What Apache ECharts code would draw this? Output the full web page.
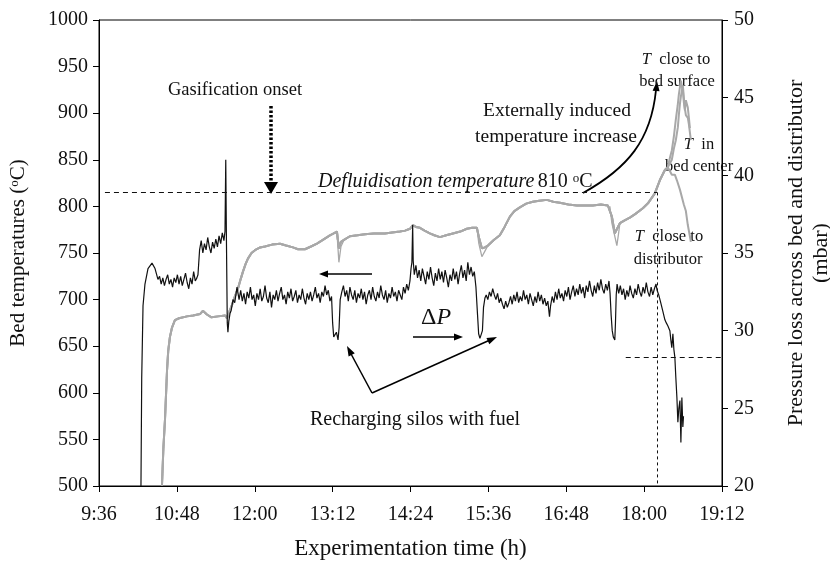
<!DOCTYPE html>
<html><head><meta charset="utf-8">
<script src="https://cdn.jsdelivr.net/npm/echarts@6/dist/echarts.min.js"></script>
<style>html,body{margin:0;padding:0;background:#fff}#c{width:830px;height:562px}</style>
</head><body><div id="c"></div>
<script>
// time in minutes since midnight
const xTickLabels = ['9:36','10:48','12:00','13:12','14:24','15:36','16:48','18:00','19:12'];
const tempTicks = [500,550,600,650,700,750,800,850,900,950,1000];
const pressTicks = [20,25,30,35,40,45,50];

// Pressure loss across bed and distributor (mbar) [time, mbar]
const pressure = [
[614.8,20],[615.5,27],[616.7,31.6],[618.5,33.0],[621.3,34.0],[625,34.35],[627.8,34.0],[630.5,33.3],
[632,33.5],[633.5,33.0],[635,33.4],[636.5,32.9],[638,33.3],[639.5,33.6],[641,33.0],[642.5,33.3],[644,32.8],[645.5,33.4],[647,33.1],[648.5,33.6],[650,33.0],[651.5,33.5],[653,32.9],[654.5,33.3],[656,33.7],[657.5,33.1],[659,32.7],[660.5,33.4],[662,33.0],[663.5,33.8],[665,33.2],[666.5,33.4],[667.5,33.6],
[669,35.2],[670.5,35.8],[672,35.0],[673.5,35.6],[675,35.2],[676.5,36.0],[678,35.4],[679.5,35.0],[681,35.7],[682.5,35.3],[684,35.9],[685.5,35.4],[687,36.1],[688.5,35.6],[690,36.3],[691.5,35.8],[692.5,36.4],
[693.2,41.0],[693.8,36],[694.6,30.5],[695.2,29.9],[696,30.6],[697.1,31.1],[698.2,31.3],[699.9,32.0],[701.5,31.8],[703.6,32.8],
[705.5,32.0],[707,32.6],[708.5,31.9],[710,32.4],[711.5,31.7],[713,32.5],[714.5,32.1],[716,32.8],[717.5,32.0],[719,32.3],[720.5,31.6],[722,32.4],[723.5,32.0],[725,32.7],[726.5,31.9],[728,32.2],[729.5,32.9],[731,32.1],[732.5,31.8],[734,32.5],[735.5,31.5],[737,32.3],[738.5,32.0],[740,32.6],[741.5,31.9],[743,32.4],[744.5,32.8],[746,32.0],[747.5,32.3],[749,31.7],[750.5,32.5],[752,32.1],[753.5,32.7],[755,31.9],[756.5,32.2],[758,32.6],[759.5,31.8],[761,32.3],[762.5,32.0],[764,32.7],[765.5,32.1],[767,31.7],[768.5,32.4],[770,32.0],[771.5,32.5],[773,31.9],[774.5,32.3],[776,32.8],[777.5,32.1],[779,32.4],[780.5,31.8],[782,32.5],[783.5,32.2],[785,32.9],[786.5,32.3],[788,32.6],[789.5,31.9],[791,32.2],
[792,30.5],[793,29.6],[794,29.5],[795.5,29.9],[797,29.4],[798,30.2],[799,32.0],[800.5,32.5],
[802,32.9],[803.5,32.2],[805,32.6],[806.5,31.9],[808,32.8],[809.5,32.3],[811,32.0],[812.5,32.6],[814,31.8],[815.5,32.4],[817,32.1],[818.5,32.7],[820,32.0],[821.5,32.5],[823,31.7],[824.5,32.3],[826,32.6],[827.5,32.0],[829,32.8],[830.5,32.2],[832,31.9],[833.5,32.5],[835,32.1],[836.5,32.9],[838,32.3],[839.5,32.0],[841,32.6],[842.5,31.8],[844,32.4],[845.5,32.1],[847,32.8],[848.5,32.2],[850,32.5],[851.5,31.9],[853,32.6],[854.5,32.3],[856,32.0],[857.5,32.8],[859,32.4],[860.5,33.0],[862,32.6],[863.5,33.2],
[864.5,34.0],[865.3,34.4],[866,36.8],[866.5,34.5],[867.5,33.6],
[869,34.2],[870.5,33.4],[872,33.9],[873.5,33.2],[875,34.0],[876.5,33.5],[878,33.0],[879.5,33.8],[881,33.3],[882.5,34.1],[884,33.4],[885.5,32.9],[887,33.7],[888.5,33.2],[890,34.0],[891.5,33.3],[893,33.8],[894.5,33.1],[896,33.9],[897.5,33.4],[899,32.8],[900.5,33.6],[902,33.2],[903.5,34.0],[905,33.3],[906.5,33.8],[908,33.0],[909.5,33.7],[911,34.2],[912.5,33.4],[914,33.9],[915.5,33.2],[917,34.4],[918.5,33.6],[920,34.1],[921.5,33.5],[923,33.8],
[924.5,32.8],[926,31.0],[927,29.8],[928.2,29.5],[929.5,29.4],[930.5,30.0],[931.5,31.5],[932.8,32.1],
[934,32.3],[935.5,32.0],[937,32.5],[938.5,32.2],[940,32.7],[941.5,32.3],[943,32.0],[944.5,32.4],[946,31.8],[947.5,32.1],[949,31.7],[950.5,31.4],[952,31.9],[953.5,31.5],[955,31.8],[956.5,32.2],[958,31.7],[959.5,32.3],[961,31.9],[962.5,32.5],[964,31.8],[965.5,32.2],[967,31.9],[968.5,32.6],[970,32.0],[971.5,32.3],[973,31.7],[974.5,32.4],[976,32.0],[977.5,31.6],[979,32.2],[980.5,31.8],[982,32.5],[983.5,31.9],[985,32.3],[986.5,31.7],[988,32.1],[989.5,31.6],[991,31.9],[992.5,30.9],[993.5,31.6],[995,32.2],[996.5,31.8],[998,32.5],[999.5,32.0],[1001,32.7],[1002.5,32.1],[1004,32.4],[1005.5,31.9],[1007,32.6],[1008.5,32.2],[1010,32.8],[1011.5,32.0],[1013,32.5],[1014.5,32.9],[1016,32.2],[1017.5,32.7],[1019,32.3],[1020.5,33.0],[1022,32.4],[1023.5,32.8],[1025,32.1],[1026.5,32.9],[1028,32.5],[1029.5,33.2],[1031,32.6],[1032.5,32.2],[1034,32.9],[1035.5,32.4],[1037,33.1],[1038.5,32.6],[1040,33.3],[1041.5,32.7],[1043,32.4],[1044.5,33.0],[1046,32.6],[1047.5,33.2],
[1048.5,32.4],[1049.5,31.0],[1050.5,30.0],[1051.5,29.6],[1052.9,29.4],[1053.5,30.5],[1054.2,32.3],[1055,33.0],
[1056.5,32.4],[1058,32.9],[1059.5,32.3],[1061,32.7],[1062.5,32.0],[1064,32.6],[1065.5,32.2],[1067,32.9],[1068.5,32.4],[1070,32.1],[1071.5,32.7],[1073,32.3],[1074.5,33.0],[1076,32.5],[1077.5,32.2],[1079,32.8],[1080.5,32.4],[1082,33.1],[1083.5,32.5],[1085,32.2],[1086.5,32.8],[1088,32.3],[1089.5,32.7],[1091,33.0],[1092,32.6],
[1093.5,32.3],[1095,31.9],[1096.4,31.8],[1097.5,31.2],[1099.2,30.7],[1100.5,30.5],[1102,30.3],[1103.8,30.0],[1104.7,29.4],[1105.6,28.9],[1106.6,29.8],[1107.5,28.8],[1108.4,28.3],[1109.3,27.0],[1110.3,25.7],[1111.2,24.1],[1112.1,25.0],[1113.1,25.5],[1114,22.8],[1114.9,25.7],[1115.8,23.8],[1116.4,24.5]
];

// Bed temperatures (°C), part common to the three thermocouples [time, °C]
const tempCommon = [
[634.2,500],[635.5,540],[637,571],[638.9,624],[640,645],[641.6,660],[643.5,670],[646.2,678],[650,680],[657.3,682],[663,683],[669.4,684.5],[672,688],[675.8,684],[680,681],[686,682],[692.5,683],[694.3,680],
[696.5,687],[698.9,694],[701.5,703],[704.5,712],[707,722],[709.1,730],[711.5,738],[713.7,744],[717,750],[720.2,753],[725,756],[729.4,757],[736,759],[743.3,760],[749,758],[755.3,756],[760,754],[766.4,754],[772,757],[777.5,760],[783,764],[789.5,769],[793,771],[796,773],[797.8,755],[799.7,762],[802.5,764],[808,768],[815,769],[821.9,770],[830,771],[840.3,771],[847,772],[854.2,773],[859,774],[863.5,776],[866.2,780],[869,778],[872.7,777],[877,774],[881.9,771],[886,769],[891.2,767],[897,769],[903.2,771],[910,773],[916.1,776],[921,777],[925.4,777],[927.2,767],[930,755],[932.8,756],[935.6,758],[941,764],[946.6,769],[951,778],[955.9,789],[960,795],[965.1,799],[971,803],[977.1,805],[983,806],[990.1,807],[996,805],[1002.1,804],[1010,802],[1017.8,801],[1025,801],[1032.6,801],[1040,802],[1046.5,801],[1048.3,800],[1050.2,789],[1052.9,771],[1055,776],[1057.6,782],[1062,785],[1066.8,788],[1072,792],[1078.8,798],[1084,804],[1089.9,814],[1094.5,828],[1099.2,839],[1101.9,842]
];
// deeper dips of one thermocouple during silo recharging
const tempDip1 = [[793,771],[796,772],[797.8,740],[799.7,757],[802.5,764]];
const tempDip2 = [[925.4,777],[927.2,760],[930,746],[932.8,752],[935.6,758]];
const tempDip3 = [[1048.3,800],[1050.2,782],[1054.8,758],[1056.5,772],[1057.6,782]];
// end of run: the three thermocouples separate
const tailSurface = [[1101.9,842],[1103.8,852],[1105.6,860],[1107.5,875],[1109.3,893],[1111,908],[1112.1,920],[1113.1,928],[1114,935],[1115,928],[1115.8,925],[1116.7,912],[1117.7,903],[1118.6,914],[1119.5,910],[1120.4,906],[1121.4,895],[1122.3,884]];
const tailCenter = [[1101.9,842],[1103.8,846],[1105.6,850],[1107.5,862],[1109.3,871],[1111.2,885],[1112.1,898],[1113.1,910],[1114,918],[1115.8,930],[1116.7,917],[1117.7,905],[1118.6,898],[1120.4,895],[1121.4,888],[1123.2,871]];
const tailDistributor = [[1101.9,842],[1103.8,838],[1105.6,834],[1106.6,836],[1108.4,834],[1110.3,828],[1113.1,818],[1116.7,802],[1118.6,795],[1120.4,780],[1122.3,768],[1123.2,762]];

const defluidTemp = 815;      // drawn level of the 810 °C line
const defluidTime = 1092;     // time when defluidisation reached
const pressAtDefluid = 28.3;

const FONT = 'Liberation Serif';
const chart = echarts.init(document.getElementById('c'));
const gray = '#a8a8a8';

function arrowHead(tip, from, len, half) {
  const dx = tip[0]-from[0], dy = tip[1]-from[1];
  const L = Math.hypot(dx, dy); const ux = dx/L, uy = dy/L;
  const bx = tip[0]-ux*len, by = tip[1]-uy*len;
  return {type:'polygon', shape:{points:[tip,[bx-uy*half, by+ux*half],[bx+uy*half, by-ux*half]]}, style:{fill:'#000'}};
}
function line(a, b, extra) {
  return Object.assign({type:'line', shape:{x1:a[0],y1:a[1],x2:b[0],y2:b[1]}, style:{stroke:'#000', lineWidth:1.5}}, extra||{});
}
function txt(x, y, text, size, extra) {
  return {type:'text', x:x, y:y, style:Object.assign({text:text, fontFamily:FONT, fontSize:size, fill:'#111', textAlign:'center', textVerticalAlign:'middle',
    rich:{i:{fontStyle:'italic', fontFamily:FONT, fontSize:size}, n:{fontFamily:FONT, fontSize:size}}}, extra||{})};
}

const tempSeries = (name, tail) => ({
  name, type:'line', yAxisIndex:0, showSymbol:false, silent:true,
  data: tempCommon.concat(tail.slice(1)),
  lineStyle:{color:gray, width:2}, z:2
});

chart.setOption({
  animation:false,
  backgroundColor:'#fff',
  grid:{left:99, right:108, top:20, bottom:76, show:true, borderColor:'#000', borderWidth:1, containLabel:false, outerBoundsMode:'none'},
  xAxis:{type:'value', min:576, max:1152, interval:72,
    axisLine:{lineStyle:{color:'#000', width:1}}, axisTick:{length:6, lineStyle:{color:'#000'}},
    splitLine:{show:false},
    axisLabel:{color:'#111', fontFamily:FONT, fontSize:20, margin:19, formatter:(v,i)=>xTickLabels[i]},
    name:'Experimentation time (h)', nameLocation:'middle', nameGap:51,
    nameTextStyle:{color:'#111', fontFamily:FONT, fontSize:23}},
  yAxis:[
    {type:'value', min:500, max:1000, interval:50, position:'left',
      axisLine:{show:true, lineStyle:{color:'#000'}}, axisTick:{show:true, length:6, lineStyle:{color:'#000'}},
      splitLine:{show:false},
      axisLabel:{color:'#111', fontFamily:FONT, fontSize:20, margin:11, formatter:v=>String(tempTicks[tempTicks.indexOf(v)])},
      name:'Bed temperatures ({s|o}C)', nameLocation:'middle', nameGap:70, nameRotate:90,
      nameTextStyle:{color:'#111', fontFamily:FONT, fontSize:21, rich:{s:{fontFamily:FONT, fontSize:13, verticalAlign:'top', color:'#111'}}}},
    {type:'value', min:20, max:50, interval:5, position:'right',
      axisLine:{show:true, lineStyle:{color:'#000'}}, axisTick:{show:true, length:6, lineStyle:{color:'#000'}},
      splitLine:{show:false},
      axisLabel:{color:'#111', fontFamily:FONT, fontSize:20, margin:12, formatter:v=>String(pressTicks[pressTicks.indexOf(v)])},
      name:'Pressure loss across bed and distributor\n(mbar)', nameLocation:'middle', nameGap:62, nameRotate:90,
      nameTextStyle:{color:'#111', fontFamily:FONT, fontSize:22, lineHeight:25, align:'center'}}
  ],
  series:[
    tempSeries('T close to bed surface', tailSurface),
    tempSeries('T in bed center', tailCenter),
    Object.assign(tempSeries('T close to distributor', tailDistributor), {
      markLine:{symbol:'none', silent:true, label:{show:false}, lineStyle:{color:'#111', type:[5,4], width:1},
        data:[[{coord:[581.5, defluidTemp]},{coord:[defluidTime, defluidTemp]}],
              [{coord:[defluidTime, defluidTemp], lineStyle:{type:[3,3]}},{coord:[defluidTime, 500]}]]}
    }),
    ...[tempDip1,tempDip2,tempDip3].map((d,k)=>({name:'dip'+k, type:'line', yAxisIndex:0, showSymbol:false, silent:true, data:d, lineStyle:{color:gray, width:1.3}, z:2})),
    {name:'ΔP', type:'line', yAxisIndex:1, showSymbol:false, silent:true, data:pressure,
      lineStyle:{color:'#111', width:1.2}, z:3,
      markLine:{symbol:'none', silent:true, label:{show:false}, lineStyle:{color:'#111', type:[5,4], width:1},
        data:[[{coord:[1063, pressAtDefluid]},{coord:[1152, pressAtDefluid]}]]}}
  ],
  graphic:[
    txt(235, 90, 'Gasification onset', 18.5),
    line([271,106],[271,186], {style:{stroke:'#000', lineWidth:3.5, lineDash:[2.5,2]}}),
    {type:'polygon', shape:{points:[[264,182],[278,182],[271,194]]}, style:{fill:'#000'}},
    {type:'text', x:318, y:182, style:{text:'{i|Defluidisation temperature} {n|810 }{s|o}{n|C}', fill:'#111', textAlign:'left', textVerticalAlign:'middle',
      rich:{i:{fontStyle:'italic', fontFamily:FONT, fontSize:20}, n:{fontFamily:FONT, fontSize:20}, s:{fontFamily:FONT, fontSize:13, verticalAlign:'top'}}}},
    txt(557, 111, 'Externally induced', 19.5),
    txt(556, 137, 'temperature increase', 19.5),
    {type:'bezierCurve', shape:{x1:583,y1:193,cpx1:628,cpy1:168,cpx2:651,cpy2:140,x2:656,y2:90}, style:{stroke:'#000', lineWidth:1.8, fill:null}},
    arrowHead([657,81],[656,92],10,3.5),
    txt(676, 60, '{i|T}  close to', 16.5),
    txt(677, 82, 'bed surface', 16.5),
    txt(699, 145, '{i|T}  in', 16.5),
    txt(699, 167, 'bed center', 16.5),
    txt(669, 237, '{i|T}  close to', 16.5),
    txt(668, 260, 'distributor', 16.5),
    line([372,274],[326,274]),
    arrowHead([319,274],[372,274],9,3.5),
    txt(436, 318, '{n|Δ}{i|P}', 24),
    line([413,337],[456,337]),
    arrowHead([463,337],[413,337],9,3.5),
    line([372,393],[350,352]),
    arrowHead([347,346],[372,393],10,3.5),
    line([372,393],[490,340]),
    arrowHead([497,337],[372,393],10,3.5),
    txt(415, 420, 'Recharging silos with fuel', 20)
  ]
});
</script></body></html>
